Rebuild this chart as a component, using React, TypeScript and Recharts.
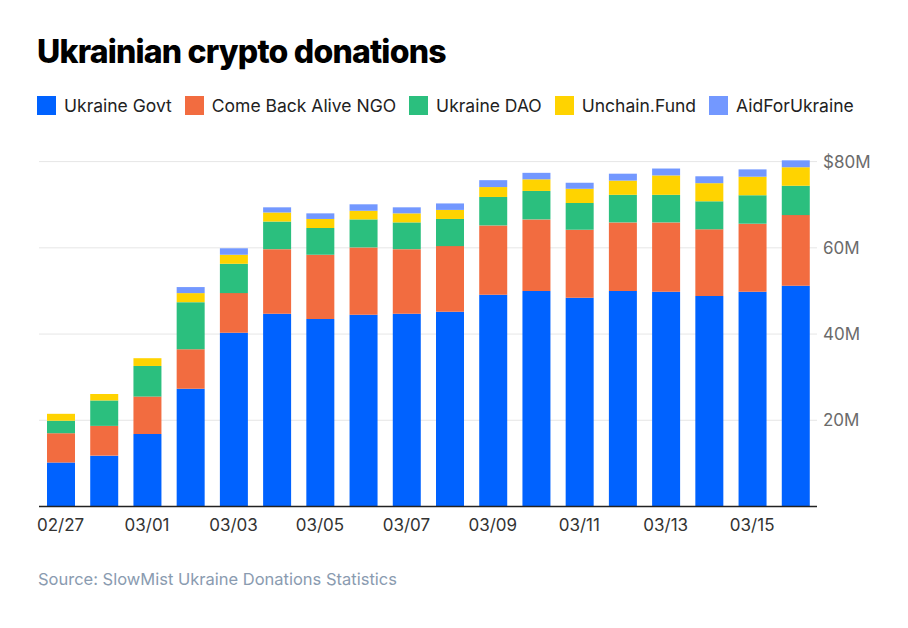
import React from 'react';
import { BarChart, Bar, XAxis, YAxis, CartesianGrid } from 'recharts';

const dates = ['02/27', '02/28', '03/01', '03/02', '03/03', '03/04', '03/05', '03/06', '03/07', '03/08', '03/09', '03/10', '03/11', '03/12', '03/13', '03/14', '03/15', '03/16'];

// values in $M
const ukraineGovt = [10.2, 11.8, 16.8, 27.3, 40.3, 44.7, 43.5, 44.5, 44.7, 45.2, 49.1, 50.0, 48.4, 50.0, 49.8, 48.8, 49.8, 51.2];
const comeBackAlive = [6.8, 6.9, 8.7, 9.2, 9.2, 15.0, 14.9, 15.6, 15.0, 15.2, 16.1, 16.6, 15.8, 15.9, 16.1, 15.5, 15.8, 16.4];
const ukraineDao = [2.9, 5.9, 7.1, 10.9, 6.8, 6.4, 6.2, 6.5, 6.2, 6.3, 6.6, 6.6, 6.2, 6.4, 6.4, 6.5, 6.6, 6.8];
const unchainFund = [1.6, 1.5, 1.8, 2.1, 2.1, 2.1, 2.1, 2.0, 2.1, 2.1, 2.3, 2.7, 3.3, 3.3, 4.5, 4.2, 4.3, 4.3];
const aidForUkraine = [0, 0, 0, 1.4, 1.5, 1.2, 1.3, 1.5, 1.4, 1.5, 1.6, 1.5, 1.4, 1.6, 1.6, 1.6, 1.7, 1.6];

const yTicks = [0, 20, 40, 60, 80];

const series = [
  { key: 'govt', name: 'Ukraine Govt', color: '#0062ff', values: ukraineGovt },
  { key: 'ngo', name: 'Come Back Alive NGO', color: '#f26c40', values: comeBackAlive },
  { key: 'dao', name: 'Ukraine DAO', color: '#2bbf7e', values: ukraineDao },
  { key: 'unchain', name: 'Unchain.Fund', color: '#ffd300', values: unchainFund },
  { key: 'aid', name: 'AidForUkraine', color: '#7398ff', values: aidForUkraine },
];

const data = dates.map((d, i) => {
  const row: Record<string, any> = { date: d };
  series.forEach((s) => {
    row[s.key] = s.values[i];
  });
  return row;
});

const font = 'Inter, "Noto Sans", sans-serif';

const App: React.FC = () => {
  return (
    <div style={{ position: 'absolute', left: 0, top: 0, width: 908, height: 628, background: '#fff', fontFamily: font }}>
      <div
        style={{
          position: 'absolute',
          left: 37,
          top: 32,
          fontSize: 32,
          fontWeight: 800,
          letterSpacing: -0.8,
          color: '#000',
          whiteSpace: 'nowrap',
        }}
      >
        Ukrainian crypto donations
      </div>

      <div style={{ position: 'absolute', left: 37, top: 95, display: 'flex', alignItems: 'center', height: 20 }}>
        {series.map((s) => (
          <div key={s.key} style={{ display: 'flex', alignItems: 'center', marginRight: 13 }}>
            <div style={{ width: 19, height: 19, background: s.color, marginRight: 8 }} />
            <span style={{ fontSize: 17.5, color: '#222', whiteSpace: 'nowrap' }}>{s.name}</span>
          </div>
        ))}
      </div>

      <div style={{ position: 'absolute', left: 0, top: 0 }}>
        <BarChart
          width={908}
          height={560}
          data={data}
          margin={{ top: 153, right: 31, left: 39, bottom: 23.5 }}
          barSize={28}
        >
          <CartesianGrid vertical={false} stroke="#e6e6e6" horizontalValues={[20, 40, 60, 80]} />
          <XAxis
            dataKey="date"
            interval={1}
            height={30}
            tickLine={false}
            tickSize={0}
            tickMargin={12}
            axisLine={{ stroke: '#222', strokeWidth: 1.5 }}
            tick={{ fontSize: 17, fill: '#333', fontFamily: font }}
          />
          <YAxis
            orientation="right"
            width={60}
            domain={[0, 82]}
            ticks={yTicks}
            axisLine={false}
            tickLine={false}
            tickSize={0}
            tickMargin={6}
            tickFormatter={(v: number) => (v === 0 ? '' : v === 80 ? '$80M' : `${v}M`)}
            tick={{ fontSize: 17, fill: '#6b6b6b', fontFamily: font }}
          />
          {series.map((s) => (
            <Bar key={s.key} dataKey={s.key} name={s.name} stackId="a" fill={s.color} isAnimationActive={false} />
          ))}
        </BarChart>
      </div>

      <div style={{ position: 'absolute', left: 38, top: 569, fontSize: 16.5, color: '#8a9bb0', whiteSpace: 'nowrap' }}>
        Source: SlowMist Ukraine Donations Statistics
      </div>
    </div>
  );
};

export default App;
